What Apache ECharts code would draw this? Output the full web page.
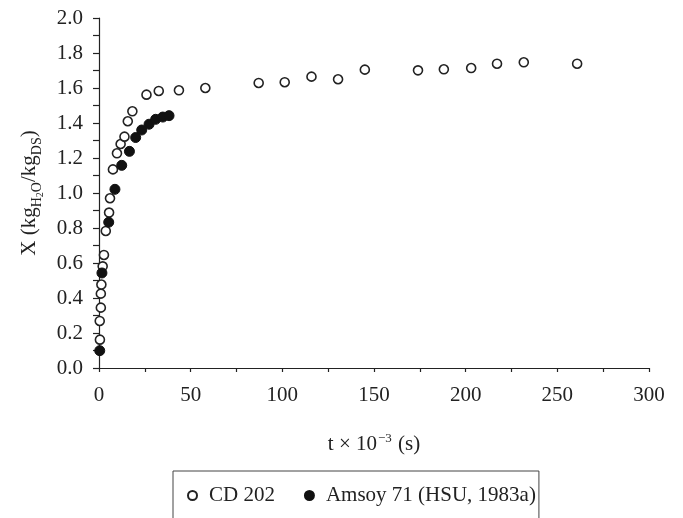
<!DOCTYPE html>
<html>
<head>
<meta charset="utf-8">
<script src="https://cdn.jsdelivr.net/npm/echarts@6/dist/echarts.min.js"></script>
<style>html,body{margin:0;padding:0;background:#fff;}#c{width:683px;height:518px;}</style>
</head>
<body>
<div id="c"></div>
<script>
// CD 202 (open circles): t x 10^-3 (s), X
const cdT = [0.5, 0.4, 1.0, 1.0, 1.3, 2.0, 2.7, 3.7, 5.5, 6.0, 7.6, 9.8, 11.8, 13.9, 15.7, 18.2, 25.9, 32.6, 43.6, 58.0, 87.1, 101.3, 115.9, 130.4, 145.0, 174.0, 188.1, 203.0, 217.1, 231.7, 260.8];
const cdX = [0.162, 0.269, 0.345, 0.425, 0.477, 0.581, 0.646, 0.783, 0.888, 0.970, 1.135, 1.227, 1.280, 1.322, 1.410, 1.467, 1.562, 1.583, 1.587, 1.600, 1.629, 1.633, 1.665, 1.650, 1.705, 1.701, 1.707, 1.714, 1.739, 1.747, 1.739];
// Amsoy 71 (HSU, 1983a) (filled circles)
const amT = [0.4, 1.6, 5.3, 8.7, 12.4, 16.6, 20.0, 23.3, 27.3, 30.9, 34.8, 38.2];
const amX = [0.099, 0.543, 0.833, 1.021, 1.158, 1.238, 1.317, 1.360, 1.393, 1.421, 1.434, 1.442];
const seriesNames = ['CD 202', 'Amsoy 71 (HSU, 1983a)'];
const xTicks = {min: 0, max: 300, interval: 50};
const yTicks = {min: 0, max: 2, interval: 0.2};

const FONT = '"Liberation Serif", "Times New Roman", serif';
const FS = 21;
const ink = '#222';

const chart = echarts.init(document.getElementById('c'), null, {renderer: 'canvas'});
chart.setOption({
  animation: false,
  backgroundColor: '#fff',
  grid: {left: 99, right: 34, top: 18, bottom: 150, containLabel: false},
  xAxis: {
    type: 'value', min: xTicks.min, max: xTicks.max, interval: xTicks.interval,
    splitLine: {show: false},
    axisLine: {show: true, lineStyle: {color: ink, width: 1.2}},
    axisTick: {show: true, inside: false, length: 4, lineStyle: {color: ink, width: 1.2}},
    minorTick: {show: true, splitNumber: 2, length: 4, lineStyle: {color: ink, width: 1.2}},
    axisLabel: {fontFamily: FONT, fontSize: FS, color: ink, margin: 17},
    name: '{m|t × 10}{sup|−3}{m| (s)}',
    nameLocation: 'middle', nameGap: 64,
    nameTextStyle: {
      fontFamily: FONT, fontSize: FS, color: ink,
      rich: {
        m: {fontFamily: FONT, fontSize: FS, color: ink, lineHeight: 24, verticalAlign: 'top', padding: [2, 0, 0, 0]},
        sup: {fontFamily: FONT, fontSize: 13, color: ink, lineHeight: 14, verticalAlign: 'top', padding: [0, 1, 0, 1]}
      }
    }
  },
  yAxis: {
    type: 'value', min: yTicks.min, max: yTicks.max, interval: yTicks.interval,
    splitLine: {show: false},
    axisLine: {show: true, lineStyle: {color: ink, width: 1.2}},
    axisTick: {show: true, inside: false, length: 6, lineStyle: {color: ink, width: 1.2}},
    minorTick: {show: true, splitNumber: 2, length: 6, lineStyle: {color: ink, width: 1.2}},
    axisLabel: {fontFamily: FONT, fontSize: FS, color: ink, margin: 16, formatter: v => v.toFixed(1)},
    name: '{m|X (kg}{s|H}{ss|2}{s|O}{m|/kg}{s|DS}{m|)}',
    nameLocation: 'middle', nameGap: 58, nameRotate: 90,
    nameTextStyle: {
      fontFamily: FONT, fontSize: FS, color: ink,
      rich: {
        m: {fontFamily: FONT, fontSize: FS, color: ink, lineHeight: 22, verticalAlign: 'top'},
        s: {fontFamily: FONT, fontSize: 14, color: ink, lineHeight: 14, verticalAlign: 'top', padding: [11, 0, 0, 0]},
        ss: {fontFamily: FONT, fontSize: 10, color: ink, lineHeight: 10, verticalAlign: 'top', padding: [17, 0, 0, 0]}
      }
    }
  },
  legend: {
    left: 173, top: 471,
    padding: [14, 3, 40, 14],
    itemGap: 29,
    itemWidth: 9, itemHeight: 9,
    borderColor: '#444', borderWidth: 1,
    textStyle: {fontFamily: FONT, fontSize: FS, color: ink, padding: [0, 0, 0, 7]},
    data: seriesNames
  },
  series: [
    {
      name: seriesNames[0], type: 'scatter', symbol: 'circle', symbolSize: 9,
      itemStyle: {color: '#fff', borderColor: ink, borderWidth: 1.6, opacity: 1},
      data: cdT.map((t, i) => [t, cdX[i]]), z: 3
    },
    {
      name: seriesNames[1], type: 'scatter', symbol: 'circle', symbolSize: 10,
      itemStyle: {color: '#111', borderColor: '#111', borderWidth: 1, opacity: 1},
      data: amT.map((t, i) => [t, amX[i]]), z: 4
    }
  ]
});
</script>
</body>
</html>
